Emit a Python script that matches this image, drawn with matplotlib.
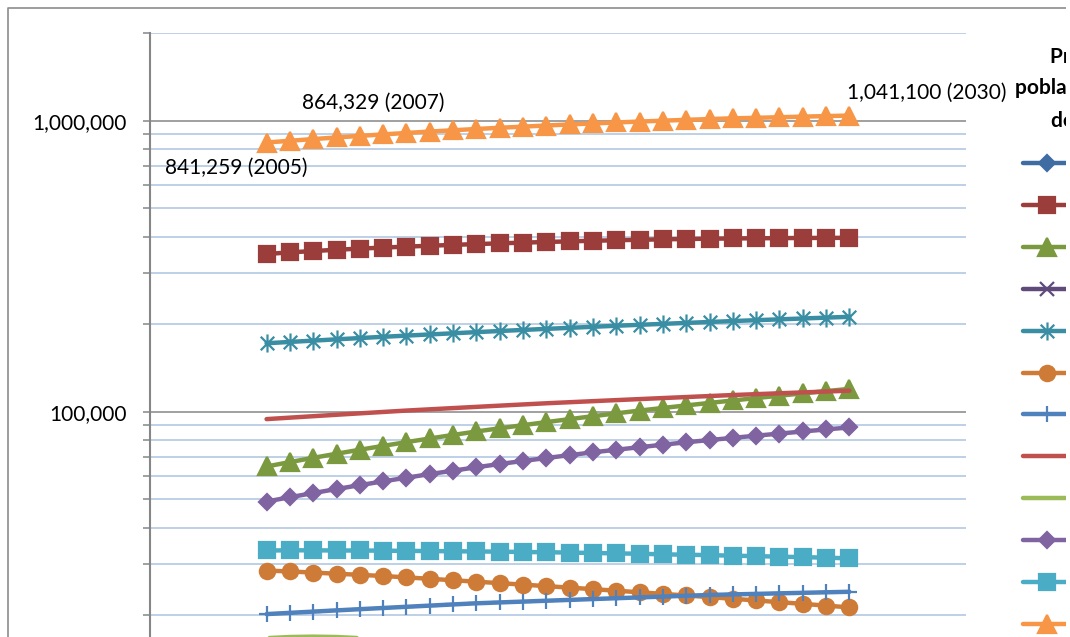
import matplotlib.pyplot as plt
from matplotlib.path import Path
from matplotlib.patches import Rectangle
from matplotlib.lines import Line2D
from matplotlib.ticker import LogLocator, FuncFormatter, NullFormatter

plt.rcParams['font.family'] = ['Lato', 'DejaVu Sans']

# años de la proyección
years = list(range(2005, 2031))

serie1 = [14000, 13950, 13880, 13820, 13760, 13700, 13640, 13580, 13520, 13460, 13400, 13340, 13280,
          13220, 13160, 13100, 13040, 12980, 12920, 12860, 12800, 12740, 12680, 12620, 12560, 12500]
serie2 = [348300, 352900, 356600, 360300, 363500, 366500, 369300, 371900, 374400, 376800, 379000, 381100, 383100,
          385000, 386800, 388400, 389900, 391200, 392300, 393200, 393900, 394500, 395000, 395400, 395700, 396000]
serie3 = [64900, 67200, 69500, 71800, 74100, 76400, 78700, 81000, 83300, 85600, 87800, 90000, 92200,
          94400, 96600, 98800, 101000, 103100, 105200, 107300, 109400, 111500, 113600, 115700, 117800, 119900]
serie4 = [11200, 11180, 11150, 11120, 11100, 11070, 11040, 11010, 10980, 10950, 10920, 10890, 10860,
          10830, 10800, 10770, 10740, 10710, 10680, 10650, 10620, 10590, 10560, 10530, 10500, 10470]
serie5 = [172000, 173800, 175600, 177400, 179200, 181000, 182700, 184400, 186100, 187800, 189500, 191100, 192700,
          194300, 195900, 197500, 199000, 200500, 202000, 203500, 205000, 206400, 207800, 209200, 210600, 212000]
serie6 = [28500, 28300, 28050, 27800, 27550, 27300, 27000, 26700, 26400, 26100, 25800, 25500, 25200,
          24900, 24600, 24300, 24000, 23700, 23400, 23100, 22800, 22500, 22200, 21900, 21600, 21300]
serie7 = [20200, 20400, 20600, 20800, 21000, 21200, 21400, 21600, 21800, 22000, 22150, 22300, 22450,
          22600, 22750, 22900, 23050, 23200, 23350, 23500, 23600, 23700, 23800, 23900, 24000, 24100]
serie8 = [94400, 95500, 96600, 97700, 98800, 99900, 101000, 102000, 103000, 104000, 105000, 106000, 107000,
          107900, 108800, 109700, 110600, 111500, 112400, 113300, 114200, 115000, 115800, 116600, 117400, 118200]
serie9 = [16700, 16850, 16900, 16850, 16700, 16500, 16300, 16100, 15900, 15700, 15500, 15300, 15100,
          14900, 14700, 14500, 14300, 14100, 13900, 13700, 13500, 13350, 13200, 13050, 12900, 12750]
serie10 = [49200, 50900, 52600, 54300, 56000, 57700, 59400, 61100, 62800, 64500, 66200, 67800, 69400,
           71000, 72600, 74100, 75600, 77100, 78600, 80000, 81400, 82800, 84200, 85600, 87000, 88400]
serie11 = [33400, 33450, 33450, 33400, 33400, 33350, 33300, 33250, 33200, 33150, 33100, 33000, 32950,
           32850, 32750, 32650, 32550, 32400, 32300, 32200, 32050, 31950, 31800, 31700, 31550, 31400]
serie12 = [841259, 852900, 864329, 875500, 886400, 897000, 907300, 917300, 926900, 936200, 945200, 953900, 962300,
           970400, 978200, 985700, 992900, 999800, 1006400, 1012700, 1018700, 1022500, 1027500, 1032300, 1036800, 1041100]

series = [serie1, serie2, serie3, serie4, serie5, serie6, serie7, serie8, serie9, serie10, serie11, serie12]
names = ['Serie%d' % (i + 1) for i in range(12)]

# años con etiqueta de dato en la serie mayor
label_years = [2005, 2007, 2030]

# asterisco tipo Excel: vertical + aspa
asterisco = Path([(0, -1), (0, 1), (-0.75, -0.75), (0.75, 0.75), (-0.75, 0.75), (0.75, -0.75)],
                 [Path.MOVETO, Path.LINETO, Path.MOVETO, Path.LINETO, Path.MOVETO, Path.LINETO])

colores = ['#3F6DA3', '#9B3D3B', '#7B9A40', '#604A7B', '#3A8EA3', '#CF7B38',
           '#4F81BD', '#C0504D', '#9BBB59', '#8064A2', '#4BACC6', '#F79646']
marcadores = ['D', 's', '^', 'x', asterisco, 'o', '+', None, None, 'D', 's', '^']
tamanos = [8, 11, 13, 10, 13, 11, 12, 0, 0, 8, 11, 13]

fig = plt.figure(figsize=(10.7, 6.37), dpi=100)
ax = fig.add_axes([150 / 1070, -66 / 637, 816 / 1070, 670 / 637])

for i, (vals, c, m, ms, name) in enumerate(zip(series, colores, marcadores, tamanos, names)):
    relleno = m in ('D', 's', '^', 'o')
    ax.plot(years, vals, color=c, lw=3.2, marker=m, ms=ms,
            mfc=c if relleno else 'none', mec=c, mew=1.6,
            solid_capstyle='round', label=name, zorder=3 + i)

# etiquetas de valor de la serie 12
desplaz = {2005: (-30, -25), 2007: (60, 36), 2030: (77, 23)}
for yr in label_years:
    v = serie12[years.index(yr)]
    ax.annotate('{:,} ({})'.format(v, yr), (yr, v), xytext=desplaz[yr], textcoords='offset pixels',
                ha='center', va='center', fontsize=15, zorder=20)

ax.set_yscale('log')
ax.set_ylim(10000, 2000000)
ax.set_xlim(2000, 2035)
ax.set_xticks([])

ax.yaxis.set_major_locator(LogLocator(base=10))
ax.yaxis.set_minor_locator(LogLocator(base=10, subs=range(2, 10)))
ax.yaxis.set_major_formatter(FuncFormatter(lambda v, p: '{:,.0f}'.format(v) if v >= 100000 else ''))
ax.yaxis.set_minor_formatter(NullFormatter())
ax.tick_params(axis='y', which='both', direction='out', length=5, width=1.1, colors='#868686',
               labelcolor='black', labelsize=15, pad=11.5)

ax.grid(True, which='major', axis='y', color='#868686', lw=1.1, zorder=1)
ax.grid(True, which='minor', axis='y', color='#B9CDE5', lw=1.3, zorder=1)
ax.set_axisbelow(True)

for lado in ['top', 'right', 'bottom']:
    ax.spines[lado].set_visible(False)
ax.spines['left'].set_color('#868686')
ax.spines['left'].set_linewidth(1.5)

# borde del área del gráfico (izquierda y arriba)
fig.lines.append(Line2D([8 / 1070, 8 / 1070, 1066 / 1070], [-0.1, 1 - 8 / 637, 1 - 8 / 637],
                        transform=fig.transFigure, color='#8C8C8C', lw=1.2))

# leyenda a la derecha
fig.legend(loc='upper left', bbox_to_anchor=(1023 / 1070, 1 - 154.5 / 637), frameon=False,
           borderpad=0, borderaxespad=0, handlelength=2.35, handletextpad=0.5,
           labelspacing=1.05, fontsize=15, numpoints=1)
fig.text(1050 / 1070, 1 - 63 / 637, 'Proyección de', fontsize=15, fontweight='bold', va='baseline')
fig.text(1015 / 1070, 1 - 94 / 637, 'población por municipio', fontsize=15, fontweight='bold', va='baseline')
fig.text(1051 / 1070, 1 - 127 / 637, 'de 2005 a 2030', fontsize=15, fontweight='bold', va='baseline')

# margen blanco del borde derecho
fig.patches.append(Rectangle((1066 / 1070, 0), 4 / 1070, 1, transform=fig.transFigure,
                             facecolor='white', edgecolor='none', zorder=10))

fig.savefig('out.png', dpi=100)
